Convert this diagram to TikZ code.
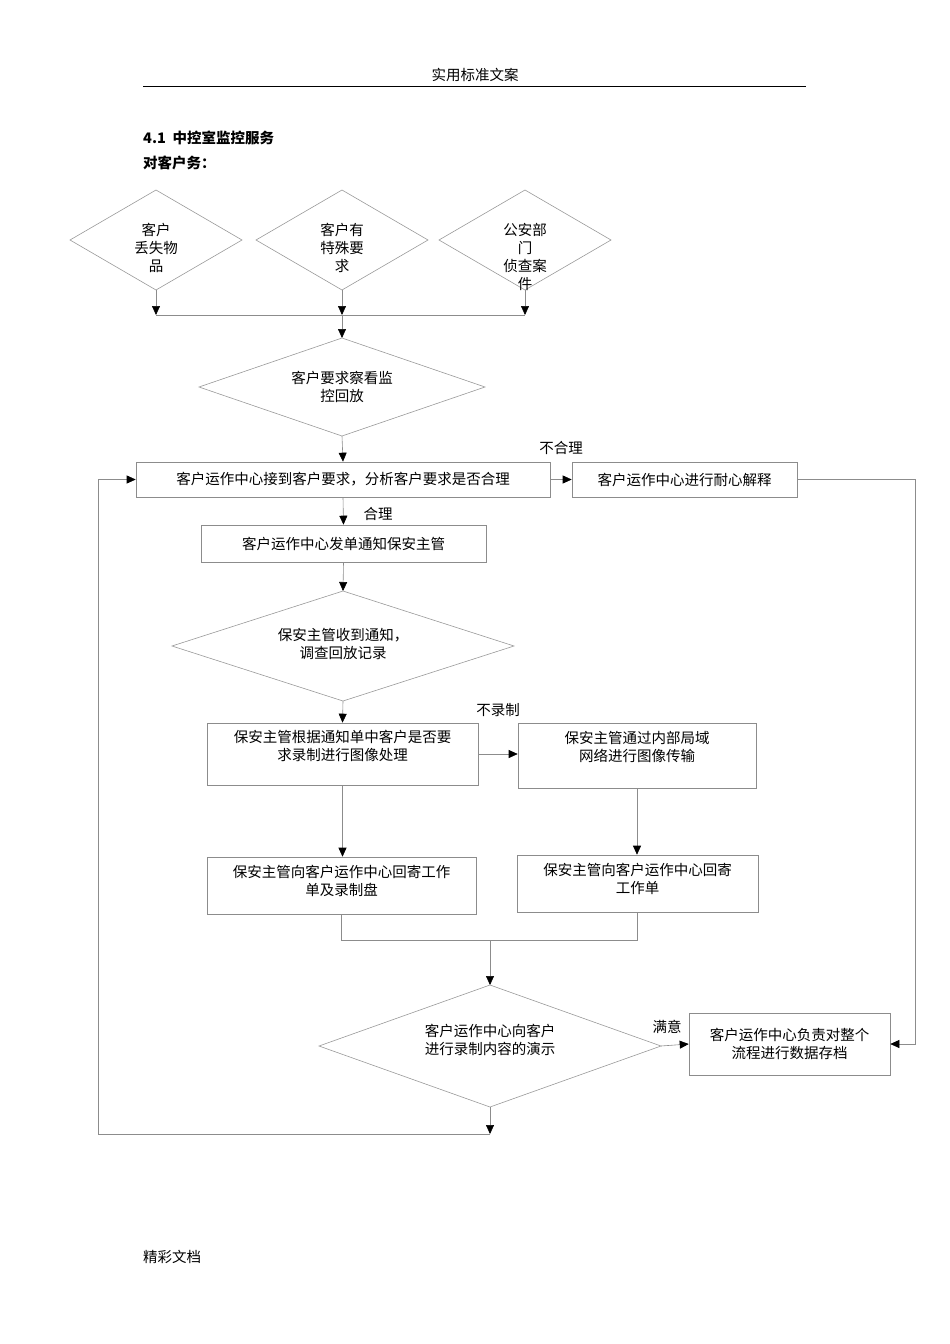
\documentclass[tikz,border=0pt]{standalone}
\usepackage{fontspec}
\newfontfamily\cjk{Noto Sans CJK SC}
\usetikzlibrary{arrows.meta,shapes.geometric}
\begin{document}
\begin{tikzpicture}[x=1pt,y=-1pt,
  every node/.style={font=\cjk\fontsize{14.5}{18}\selectfont,align=center,inner sep=0pt},
  bx/.style={draw=black!45,line width=0.6pt,minimum width=#1,rectangle},
  ln/.style={draw=black!45,line width=0.6pt},
  ar/.style={ln,-{Triangle[length=9pt,width=8pt,fill=black,color=black]}},
  lbl/.style={font=\cjk\fontsize{14.5}{18}\selectfont}]
\useasboundingbox (0,0) rectangle (950,1344);
\node (hd) at (475,75) {实用标准文案};
\draw[line width=0.8pt] (143,86) coordinate (h1) -- (806,86) coordinate (h2);
\node[anchor=west,font=\cjk\bfseries\fontsize{14.5}{18}\selectfont] (t1) at (143,138) {4.1\ \ 中控室监控服务};
\node[anchor=west,font=\cjk\bfseries\fontsize{14.5}{18}\selectfont] (t2) at (143,163) {对客户务：};
\foreach \n/\cx/\cy/\w/\h in {d1/156/240/86/50, d2/342/240/86/50, d3/525/240/86/50, d4/342/387/143/49, d5/343/646/171/55, d6/490/1046/171/61}{
  \draw[draw=black!40,line width=0.6pt] (\cx-\w,\cy) -- (\cx,\cy-\h) -- (\cx+\w,\cy) -- (\cx,\cy+\h) -- cycle;
  \coordinate (\n) at (\cx,\cy);
  \coordinate (\n s) at (\cx,\cy+\h);
  \coordinate (\n n) at (\cx,\cy-\h);
  \coordinate (\n e) at (\cx+\w,\cy);
}
\node at (156,248) {客户\\丢失物\\品};
\node at (342,248) {客户有\\特殊要\\求};
\node at (525,257) {公安部\\门\\侦查案\\件};
\node at (342,387) {客户要求察看监\\控回放};
\node at (343,644) {保安主管收到通知，\\调查回放记录};
\node at (490,1040) {客户运作中心向客户\\进行录制内容的演示};
\node[bx=414pt,minimum height=35pt] (b1) at (343,479.5) {客户运作中心接到客户要求，分析客户要求是否合理};
\node[bx=225pt,minimum height=35pt] (b2) at (684.5,479.5) {客户运作中心进行耐心解释};
\node[bx=285pt,minimum height=37pt] (b3) at (343.5,543.5) {客户运作中心发单通知保安主管};
\node[bx=271pt,minimum height=62pt,text depth=18pt] (b4) at (342.5,754) {保安主管根据通知单中客户是否要\\求录制进行图像处理};
\node[bx=238pt,minimum height=65pt,text depth=18pt] (b5) at (637,755.5) {保安主管通过内部局域\\网络进行图像传输};
\node[bx=269pt,minimum height=57pt,text depth=10pt] (b6) at (341.5,885.5) {保安主管向客户运作中心回寄工作\\单及录制盘};
\node[bx=241pt,minimum height=57pt,text depth=10pt] (b7) at (637.5,883.5) {保安主管向客户运作中心回寄\\工作单};
\node[bx=201pt,minimum height=62pt] (b8) at (789.5,1044) {客户运作中心负责对整个\\流程进行数据存档};
\foreach \d/\x in {d1/156,d2/342,d3/525}{\draw[ar] (\d s) -- (\x,315);}
\draw[ln] (156,315) coordinate (m1) -- (525,315) coordinate (m2);
\draw[ar] (342,315) -- (d4n);
\draw[ar] (d4s) -- (b1.north);
\draw[ar] (b1.east) -- (b2.west);
\node[lbl] (l1) at (561,448) {不合理};
\draw[ar] (b1.south) -- (b3.north);
\node[lbl] (l2) at (378,514) {合理};
\draw[ar] (b3.south) -- (d5n);
\draw[ar] (d5s) -- (b4.north);
\draw[ar] (b4.east) -- (b4.east -| b5.west);
\node[lbl] (l3) at (498,710) {不录制};
\draw[ar] (b4.south) -- (b4.south |- b6.north);
\draw[ar] (b5.south) -- (b5.south |- b7.north);
\draw[ln] (b6.south) -- (b6.south |- 0,940) coordinate (j1) -- (b7.south |- 0,940) -- (b7.south);
\draw[ar] (490,940) -- (d6n);
\draw[ar] (d6e) -- (b8.west);
\node[lbl] (l4) at (667,1027) {满意};
\draw[ar] (b2.east) -- (915,479.5) -- (915,1044) -- (b8.east);
\draw[ar] (d6s) -- (490,1134) coordinate (lp);
\draw[ar] (lp) -- (98,1134) -- (98,479.5) -- (b1.west);
\node (ft) at (172,1257) {精彩文档};
\end{tikzpicture}
\end{document}
